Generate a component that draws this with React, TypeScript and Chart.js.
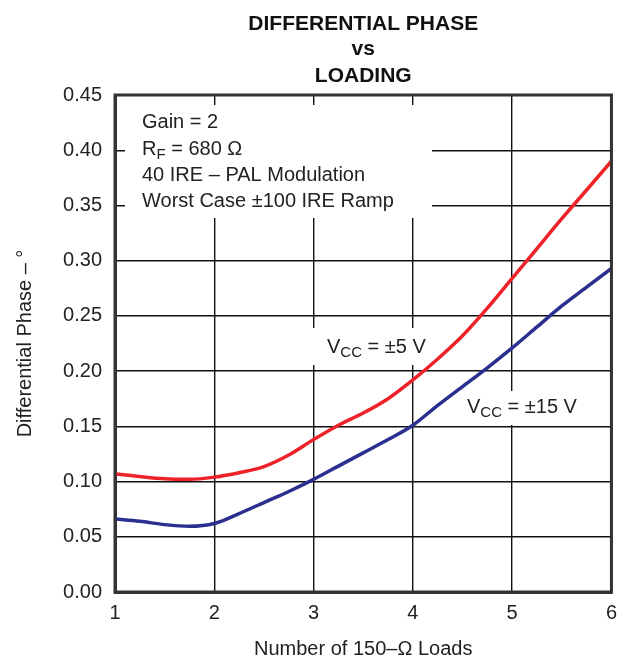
import React, { useEffect, useRef } from "react";
import { Chart, registerables } from "chart.js";

Chart.register(...registerables);

const xLoads = [1, 1.25, 1.5, 1.75, 2, 2.25, 2.5, 2.75, 3, 3.25, 3.5, 3.75, 4, 4.25, 4.5, 4.75, 5, 5.25, 5.5, 5.75, 6];
const phase5V = [0.107, 0.1045, 0.1025, 0.102, 0.104, 0.108, 0.1135, 0.124, 0.138, 0.151, 0.162, 0.175, 0.192, 0.211, 0.232, 0.257, 0.284, 0.311, 0.338, 0.364, 0.39];
const phase15V = [0.066, 0.064, 0.061, 0.0595, 0.062, 0.071, 0.081, 0.091, 0.102, 0.114, 0.126, 0.138, 0.151, 0.169, 0.186, 0.203, 0.221, 0.24, 0.259, 0.276, 0.293];
const xTicks = [1, 2, 3, 4, 5, 6];
const yTicks = [0, 0.05, 0.1, 0.15, 0.2, 0.25, 0.3, 0.35, 0.4, 0.45];
const titleLines = ["DIFFERENTIAL PHASE", "vs", "LOADING"];
const xTitle = "Number of 150–Ω Loads";
const yTitle = "Differential Phase – °";

const FONT = '"Liberation Sans", Arial, Helvetica, sans-serif';
const TEXT = "#222";

type Seg = { t: string; sub?: boolean };

function drawRich(ctx: CanvasRenderingContext2D, segs: Seg[], x: number, y: number) {
  let cx = x;
  for (const s of segs) {
    ctx.font = s.sub ? `15px ${FONT}` : `20px ${FONT}`;
    ctx.fillText(s.t, cx, s.sub ? y + 4 : y);
    cx += ctx.measureText(s.t).width;
  }
}

const decor = {
  id: "decor",
  beforeDatasetsDraw(chart: any) {
    const ctx: CanvasRenderingContext2D = chart.ctx;
    ctx.save();
    ctx.fillStyle = "#fff";
    ctx.fillRect(125, 105, 307, 113);
    ctx.fillRect(306, 328, 132, 37);
    ctx.fillRect(460, 391, 132, 34);
    ctx.restore();
  },
  afterDraw(chart: any) {
    const ctx: CanvasRenderingContext2D = chart.ctx;
    const { left, right, top, bottom } = chart.chartArea;
    ctx.save();
    ctx.fillStyle = "#111";
    ctx.textAlign = "center";
    ctx.textBaseline = "alphabetic";
    ctx.font = `bold 21px ${FONT}`;
    const cxT = (left + right) / 2;
    ctx.fillText(titleLines[0], cxT, 30);
    ctx.fillText(titleLines[1], cxT, 55);
    ctx.fillText(titleLines[2], cxT, 82);

    ctx.fillStyle = TEXT;
    ctx.textAlign = "left";
    drawRich(ctx, [{ t: "Gain = 2" }], 142, 128);
    drawRich(ctx, [{ t: "R" }, { t: "F", sub: true }, { t: " = 680 Ω" }], 142, 155);
    drawRich(ctx, [{ t: "40 IRE – PAL Modulation" }], 142, 181);
    drawRich(ctx, [{ t: "Worst Case ±100 IRE Ramp" }], 142, 207);
    drawRich(ctx, [{ t: "V" }, { t: "CC", sub: true }, { t: " = ±5 V" }], 327, 353);
    drawRich(ctx, [{ t: "V" }, { t: "CC", sub: true }, { t: " = ±15 V" }], 467, 413);

    ctx.font = `20px ${FONT}`;
    ctx.textAlign = "center";
    ctx.fillText(xTitle, (left + right) / 2, 655);
    ctx.translate(31, (top + bottom) / 2);
    ctx.rotate(-Math.PI / 2);
    ctx.fillText(yTitle, 0, 0);
    ctx.restore();
  },
};

export default function App() {
  const ref = useRef<HTMLCanvasElement>(null);
  useEffect(() => {
    const canvas = ref.current;
    if (!canvas) return;
    const chart = new Chart(canvas, {
      type: "line",
      data: {
        datasets: [
          {
            label: "VCC = ±5 V",
            data: xLoads.map((x, i) => ({ x, y: phase5V[i] })),
            borderColor: "#ee2229",
            borderWidth: 3.5,
            pointRadius: 0,
            cubicInterpolationMode: "monotone",
            fill: false,
          },
          {
            label: "VCC = ±15 V",
            data: xLoads.map((x, i) => ({ x, y: phase15V[i] })),
            borderColor: "#2b2f8f",
            borderWidth: 3.5,
            pointRadius: 0,
            cubicInterpolationMode: "monotone",
            fill: false,
          },
        ],
      },
      options: {
        responsive: false,
        animation: false,
        devicePixelRatio: 1,
        layout: { padding: { top: 95, right: 11, left: 0, bottom: 0 } },
        plugins: { legend: { display: false }, tooltip: { enabled: false }, title: { display: false } },
        scales: {
          x: {
            type: "linear",
            min: 1,
            max: 6,
            afterBuildTicks: (s: any) => {
              s.ticks = xTicks.map((v) => ({ value: v }));
            },
            afterFit: (s: any) => {
              s.height = 67;
            },
            ticks: {
              font: { family: FONT, size: 20 },
              color: TEXT,
              padding: 9,
              maxRotation: 0,
              callback: (v: any) => String(v),
            },
            grid: { color: "#111", lineWidth: 1.4, drawTicks: false },
            border: { display: true, color: "#333", width: 3 },
          },
          y: {
            type: "linear",
            min: 0,
            max: 0.45,
            afterBuildTicks: (s: any) => {
              s.ticks = yTicks.map((v) => ({ value: v }));
            },
            afterFit: (s: any) => {
              s.width = 115;
            },
            ticks: {
              font: { family: FONT, size: 20 },
              color: TEXT,
              padding: 13,
              callback: (v: any) => Number(v).toFixed(2),
            },
            grid: { color: "#111", lineWidth: 1.4, drawTicks: false },
            border: { display: true, color: "#333", width: 3 },
          },
        },
      },
      plugins: [
        decor,
        {
          id: "frame",
          afterDatasetsDraw(chart: any) {
            const { left, right, top, bottom } = chart.chartArea;
            const c = chart.ctx;
            c.save();
            c.strokeStyle = "#333";
            c.lineWidth = 3;
            c.strokeRect(left, top, right - left, bottom - top);
            c.restore();
          },
        },
      ],
    } as any);
    return () => chart.destroy();
  }, []);
  return (
    <div style={{ position: "absolute", left: 0, top: 0, width: 626, height: 659, background: "#fff" }}>
      <canvas ref={ref} width={626} height={659} style={{ width: 626, height: 659, display: "block" }} />
    </div>
  );
}
